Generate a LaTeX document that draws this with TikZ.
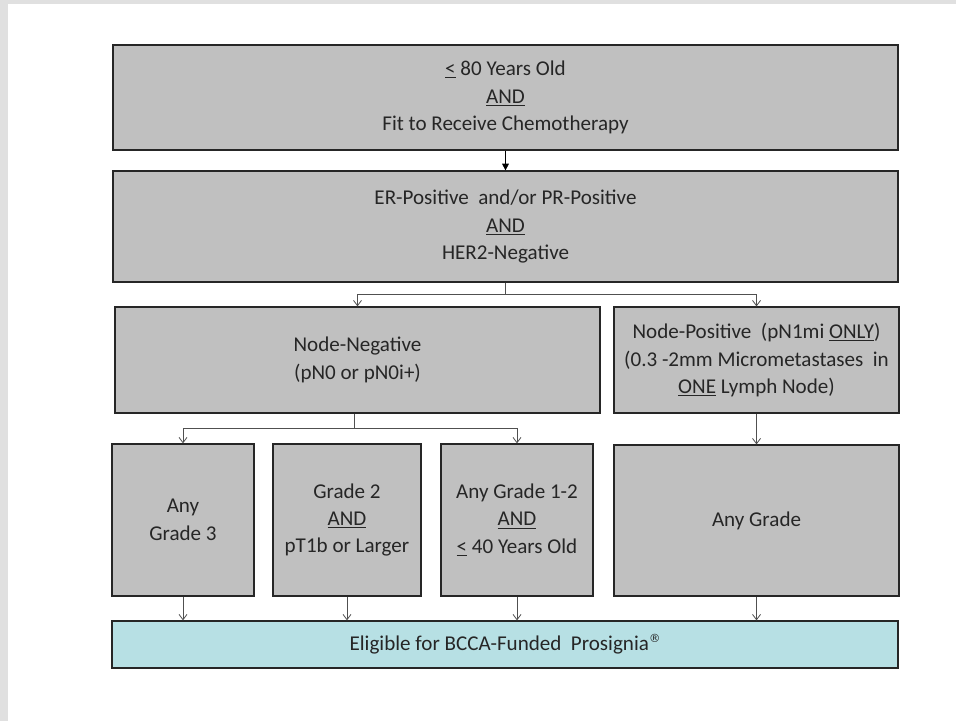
\documentclass[tikz,border=0pt]{standalone}
\usepackage{fontspec}
\setmainfont{Carlito}
\newfontfamily\regfont{DejaVu Sans}
\usetikzlibrary{arrows.meta}

\definecolor{boxgray}{RGB}{192,192,192}
\definecolor{boxteal}{RGB}{183,224,228}
\definecolor{framegray}{RGB}{224,224,224}
\definecolor{textgray}{RGB}{38,38,38}
\definecolor{linegray}{RGB}{80,80,80}

\begin{document}
\begin{tikzpicture}[x=0.75pt,y=-0.75pt,
    font=\fontsize{15.8}{20.6}\selectfont,
    flowbox/.style={draw=black!85,line width=0.9pt,fill=boxgray,text=textgray,
      align=center,inner sep=0pt,anchor=center},
    openarrow/.style={draw=linegray,line width=0.6pt,-{Straight Barb[length=4pt,width=6pt]}},
    plainline/.style={draw=linegray,line width=0.6pt}]

      % page frame
      \fill[framegray] (0,0) rectangle (956,721);
      \fill[white] (8,4) rectangle (956,721);
      \useasboundingbox (0,0) rectangle (956,721);

      \begin{scope}[every node/.style={flowbox}]
        \node[minimum width=588.75pt,minimum height=78.75pt] (age)  at (505.5,97.5)
          {\underline{<} 80 Years Old\\\underline{AND}\\Fit to Receive Chemotherapy};
        \node[minimum width=588.75pt,minimum height=83.25pt] (er)  at (505.5,226.5)
          {ER-Positive~ and/or PR-Positive\\\underline{AND}\\HER2-Negative};
        \node[minimum width=363.75pt,minimum height=79.5pt] (nneg)  at (357.5,360)
          {Node-Negative\\(pN0 or pN0i+)};
        \node[minimum width=213.75pt,minimum height=79.5pt] (npos)  at (756.5,360)
          {Node-Positive~ (pN1mi \underline{ONLY})\\(0.3 -2mm Micrometastases~ in\\\underline{ONE} Lymph Node)};
        \node[minimum width=106.5pt,minimum height=114pt] (g3)  at (183,520)
          {Any\\Grade 3};
        \node[minimum width=111pt,minimum height=114pt] (g2)  at (347,520)
          {Grade 2\\\underline{AND}\\pT1b or Larger};
        \node[minimum width=114pt,minimum height=114pt] (g12)  at (517,520)
          {Any Grade 1-2\\\underline{AND}\\\underline{<} 40 Years Old};
        \node[minimum width=213.75pt,minimum height=113.25pt] (gany)  at (756.5,520.5)
          {Any Grade};
        \node[fill=boxteal,minimum width=589.5pt,minimum height=35.25pt] (elig)  at (505,644.5)
          {Eligible for BCCA-Funded~ Prosignia\raisebox{0.8ex}{\regfont\fontsize{8.5}{8.5}\selectfont ®}};
      \end{scope}

      \coordinate (split1) at (505.5,294);
      \coordinate (split2) at (354,428);

      \draw[line width=0.6pt,-{Triangle[length=5pt,width=5pt]}] (age) -- (er);

      \path[plainline] (er.south) -- (split1);
      \path[openarrow] (split1) -| (nneg.north);
      \path[openarrow] (split1) -| (npos.north);

      \path[plainline] (split2 |- nneg.south) -- (split2);
      \path[openarrow] (split2) -| (g3.north);
      \path[openarrow] (split2) -| (g12.north);

      \path[openarrow] (npos) -- (gany);

      \path[openarrow] (g3.south) -- (g3.south |- elig.north);
      \path[openarrow] (g2.south) -- (g2.south |- elig.north);
      \path[openarrow] (g12.south) -- (g12.south |- elig.north);
      \path[openarrow] (gany.south) -- (gany.south |- elig.north);

\end{tikzpicture}
\end{document}
